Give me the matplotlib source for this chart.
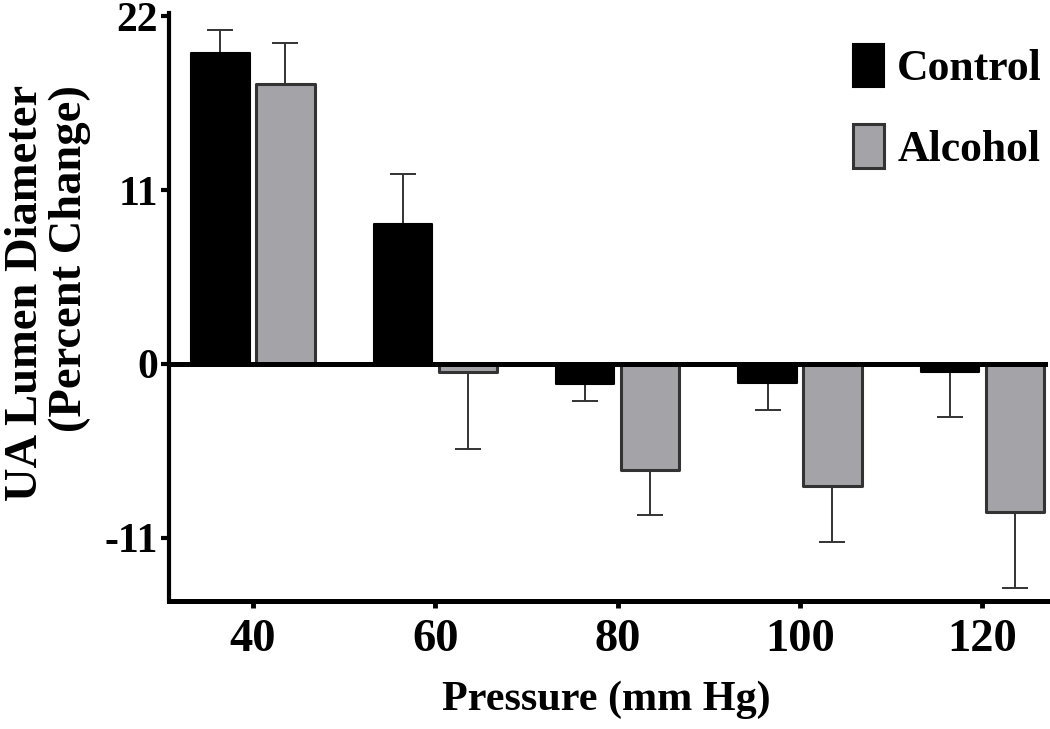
import matplotlib
matplotlib.use("Agg")
import matplotlib.pyplot as plt
from matplotlib.patches import Patch
import numpy as np

pressures = ["40", "60", "80", "100", "120"]
control = [19.7, 8.85, -1.25, -1.2, -0.5]
control_err = [1.4, 3.15, 1.1, 1.7, 2.85]
alcohol = [17.7, -0.5, -6.7, -7.7, -9.4]
alcohol_err = [2.6, 4.9, 2.85, 3.55, 4.8]
yticks = [-11, 0, 11, 22]

plt.rcParams['font.family'] = ['Liberation Serif', 'DejaVu Serif']
plt.rcParams['font.weight'] = 'bold'

fig = plt.figure(figsize=(10.5, 7.29), dpi=100)
ax = fig.add_axes([169/1050, 1-601/729, (1048-169)/1050, (601-13)/729])

x = np.arange(len(pressures))
w = 0.32
off = 0.178
ctrl_col = "black"
alc_col = "#a4a3a8"
edge_alc = "#333333"

ax.bar(x - off, control, w, color=ctrl_col, edgecolor="black", linewidth=1.5,
       joinstyle="round", zorder=2)
ax.bar(x + off, alcohol, w, color=alc_col, edgecolor=edge_alc, linewidth=2.2,
       joinstyle="round", zorder=2)

def one_sided(vals, errs):
    lo = [e if v < 0 else 0 for v, e in zip(vals, errs)]
    hi = [e if v >= 0 else 0 for v, e in zip(vals, errs)]
    return [lo, hi]

ax.errorbar(x - off, control, yerr=one_sided(control, control_err), fmt="none",
            ecolor="#333333", elinewidth=1.4, capsize=9.5, capthick=1.4, zorder=1)
ax.errorbar(x + off, alcohol, yerr=one_sided(alcohol, alcohol_err), fmt="none",
            ecolor="#333333", elinewidth=1.4, capsize=9.5, capthick=1.4, zorder=1)

ax.axhline(0, color="black", linewidth=3.6, zorder=3)

ax.set_xlim(-0.46, 4.36)
ax.set_ylim(-15, 22.2)
ax.set_yticks(yticks)
ax.set_yticklabels([str(t) for t in yticks], fontsize=30, fontweight="bold")
ax.set_xticks(x)
ax.set_xticklabels(pressures, fontsize=33.5, fontweight="bold")

for s in ["top", "right"]:
    ax.spines[s].set_visible(False)
ax.spines["left"].set_linewidth(3.0)
ax.spines["bottom"].set_linewidth(3.6)
ax.tick_params(axis="y", direction="out", length=6, width=3, pad=2)
ax.tick_params(axis="x", direction="out", length=5, width=3.5, pad=8)

fig.text(606/1050, 1-700/729, "Pressure (mm Hg)", ha="center", va="center",
         fontsize=30.3, fontweight="bold")
fig.text(48/1050, 1-293/729, "UA Lumen Diameter\n(Percent Change)", rotation=90,
         ha="center", va="center", multialignment="right", fontsize=33.5,
         fontweight="bold", linespacing=1.05)

handles = [Patch(facecolor=ctrl_col, edgecolor="black", linewidth=1.5, joinstyle="round"),
           Patch(facecolor=alc_col, edgecolor=edge_alc, linewidth=2.2, joinstyle="round")]
leg = ax.legend(handles, ["Control", "Alcohol"], loc="upper right",
                bbox_to_anchor=(1.028, 1.0), frameon=False,
                prop={"size": 31.5, "weight": "bold"},
                handlelength=0.7, handleheight=1.15, handletextpad=0.3,
                labelspacing=0.8, borderaxespad=0.3)

fig.savefig("out.png", dpi=100)
